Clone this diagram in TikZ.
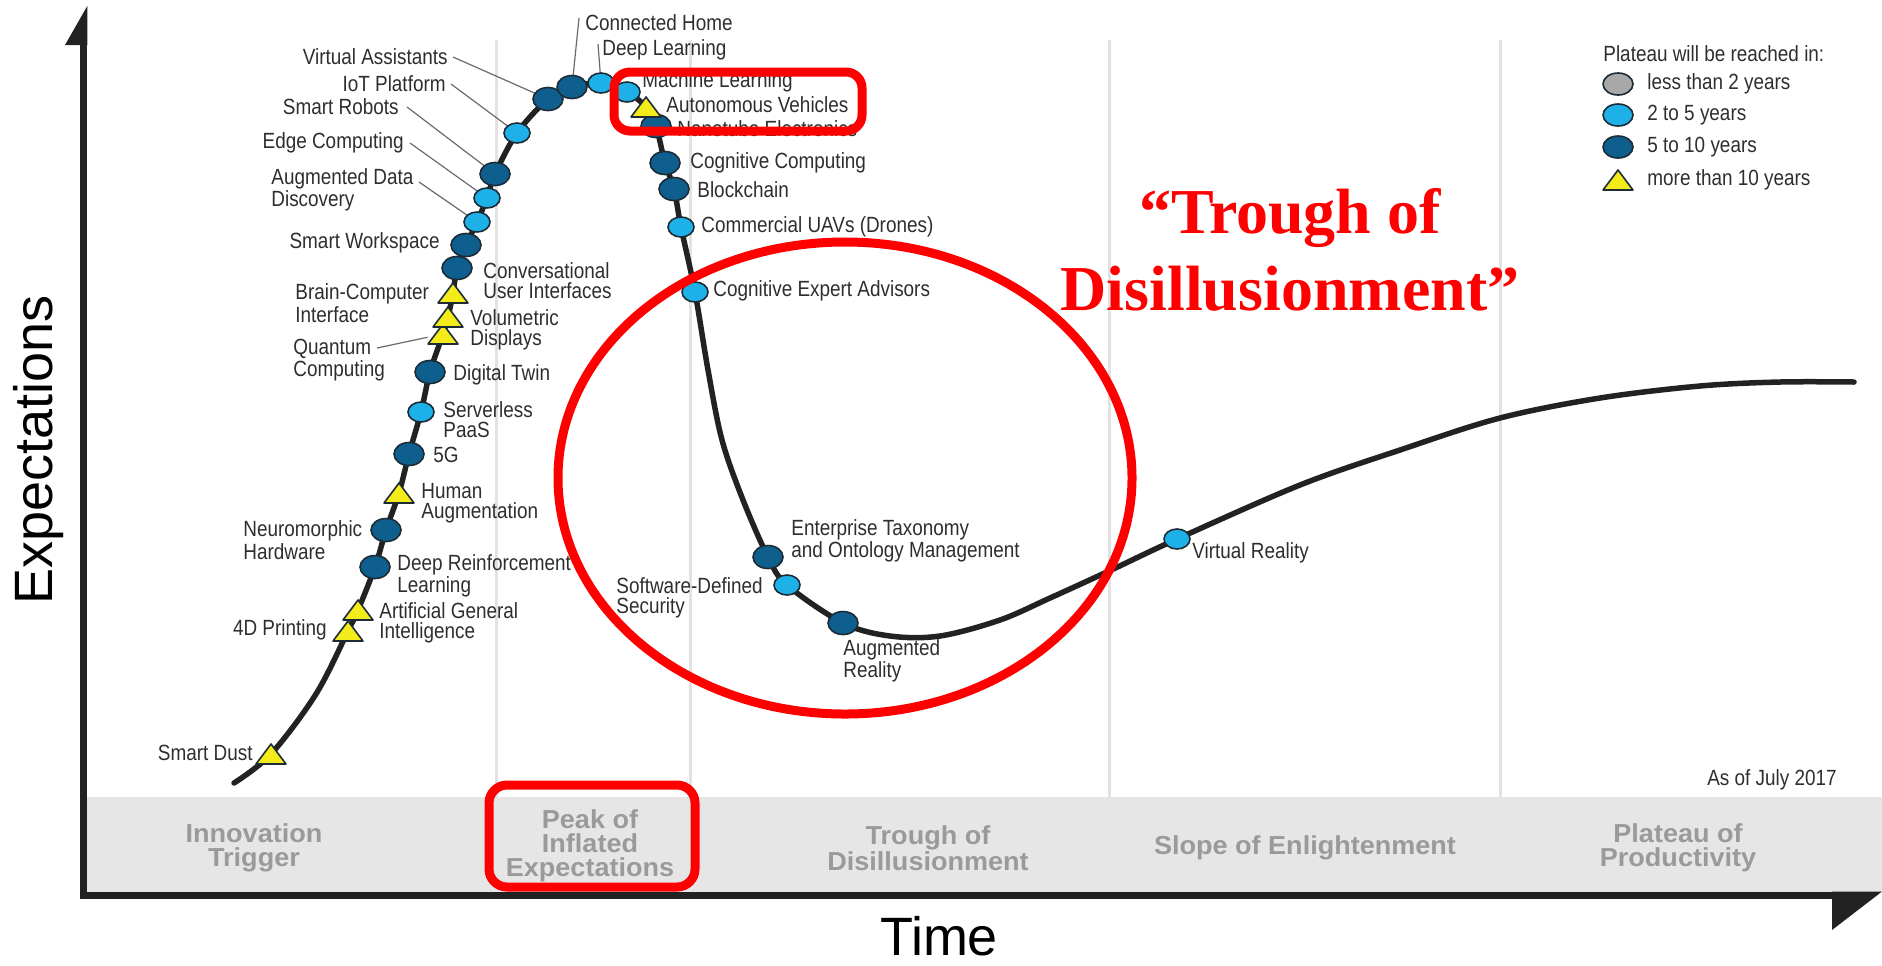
\documentclass[tikz,border=0pt]{standalone}
\usepackage{fontspec}
\setmainfont{Liberation Sans}
\newfontfamily\lblfont[FakeStretch=0.86]{Liberation Sans}
\newfontfamily\bandfont[FakeStretch=1.04]{Liberation Sans}
\newfontfamily\redfont{Liberation Serif}
\usetikzlibrary{shapes.geometric}
\definecolor{dkb}{HTML}{0E5E8E}
\definecolor{ltb}{HTML}{1EB1E8}
\definecolor{triY}{HTML}{F4EC1A}
\definecolor{outl}{HTML}{1C2B36}
\definecolor{gridc}{HTML}{E2E2E2}
\definecolor{bandc}{HTML}{E6E6E6}
\definecolor{bandtxt}{HTML}{9A9A9A}
\definecolor{lgray}{HTML}{A8A8A8}
\definecolor{axc}{HTML}{222222}
\definecolor{leadc}{HTML}{6A6A6A}
\definecolor{lbltxt}{HTML}{2E2E2E}
\definecolor{redA}{HTML}{FF0000}
\begin{document}
\begin{tikzpicture}[x=0.5pt,y=-0.5pt,
  dkm/.style={ellipse, draw=outl, fill=dkb, line width=0.8pt, minimum width=15pt, minimum height=11.5pt, inner sep=0pt},
  ltm/.style={ellipse, draw=outl, fill=ltb, line width=0.8pt, minimum width=13pt, minimum height=10pt, inner sep=0pt},
  lgm/.style={ellipse, draw=outl, line width=0.8pt, minimum width=15pt, minimum height=11pt, inner sep=0pt},
  trm/.style={rectangle, inner sep=0pt, minimum width=15pt, minimum height=10pt},
  pics/ytri/.style={code={\draw[fill=triY, draw=outl, line width=0.8pt, line join=round] (-7.5pt,-5pt) -- (7.5pt,-5pt) -- (0pt,5pt) -- cycle;}},
  lbl/.style={font=\lblfont\fontsize{11}{10}\selectfont, text=lbltxt, inner sep=0pt, align=left},
  lblr/.style={lbl, anchor=east},
  lbll/.style={lbl, anchor=west},
  leader/.style={draw=leadc, line width=0.6pt},
  phase/.style={font=\bandfont\bfseries\fontsize{13}{12}\selectfont, text=bandtxt, align=center, inner sep=0pt},
  gridline/.style={draw=gridc, line width=1.5pt},
  redmark/.style={draw=redA, line width=4.5pt}
]
\useasboundingbox (0,0) rectangle (1882,965);

% band and dividers
\fill[bandc] (87,797) rectangle (1882,892);
\foreach \gx in {496,690,1109,1500} \draw[gridline] (\gx,40) -- (\gx,797);

% axes
\draw[axc, line width=3.5pt] (83.5,44) -- (83.5,895) -- (1834,895);
\fill[axc] (87.3,6) -- (87.3,45) -- (65,45) -- cycle;
\fill[axc] (1882,891.5) -- (1832,891.5) -- (1832,930) -- cycle;

% phase labels
\node[phase] (phA) at (254,848) {Innovation\\Trigger};
\node[phase] (phB) at (590,846) {Peak of\\Inflated\\Expectations};
\node[phase] (phC) at (928,848) {Trough of\\Disillusionment};
\node[phase] (phD) at (1305,848) {Slope of Enlightenment};
\node[phase] (phE) at (1678,848) {Plateau of\\Productivity};

% axis titles
\node[font=\fontsize{27}{30}\selectfont, inner sep=0pt] (tTime) at (939,936) {Time};
\node[font=\fontsize{27}{30}\selectfont, inner sep=0pt, rotate=90] (tExp) at (39,450) {Expectations};

% hype curve
\draw[axc, line width=2.75pt, line cap=round] plot[smooth, tension=0.55] coordinates {
 (234,783) (271,754) (316,694) (348,631) (358,610) (375,567) (386,530) (399,493)
 (409,454) (421,412) (430,372) (443,334) (448,317) (453,293) (457,268) (466,245)
 (477,222) (487,198) (495,174) (517,133) (548,99) (572,87) (601,83) (627,92)
 (646,107) (656,126) (665,163) (674,189) (681,227) (695,292) (708,370) (722,440)
 (743,500) (768,557) (787,585) (843,623) (890,636) (940,636) (1000,620) (1050,598)
 (1109,571) (1177,539) (1300,485) (1400,450) (1500,418) (1600,398) (1700,386)
 (1780,382) (1854,382)};

% leader start coordinates
\coordinate (cADD) at (419,182);
\coordinate (cCH) at (579,18);
\coordinate (cDL) at (598,44);
\coordinate (cQC) at (377,348);

% labels
\node[lblr] (lVA) at (448,57) {Virtual Assistants};
\node[lblr] (lIoT) at (446,84) {IoT Platform};
\node[lblr] (lSR) at (399,107) {Smart Robots};
\node[lblr] (lEC) at (404,143) {Edge Computing};
\node[lbll] (lADD) at (271,190) {Augmented Data\\Discovery};
\node[lblr] (lSW) at (440,243) {Smart Workspace};
\node[lbll] (lCUI) at (483,281) {Conversational\\User Interfaces};
\node[lbll] (lBCI) at (295,303) {Brain-Computer\\Interface};
\node[lbll] (lVD) at (470,330) {Volumetric\\Displays};
\node[lbll] (lQC) at (293,360) {Quantum\\Computing};
\node[lbll] (lDT) at (453,375) {Digital Twin};
\node[lbll] (lSP) at (443,420) {Serverless\\PaaS};
\node[lbll] (l5G) at (433,455) {5G};
\node[lbll] (lHA) at (421,503) {Human\\Augmentation};
\node[lbll] (lNH) at (243,540) {Neuromorphic\\Hardware};
\node[lbll] (lDRL) at (397,576) {Deep Reinforcement\\Learning};
\node[lbll] (lAGI) at (379,623) {Artificial General\\Intelligence};
\node[lblr] (l4D) at (327,630) {4D Printing};
\node[lblr] (lSD) at (253,753) {Smart Dust};
\node[lbll] (lCH) at (585,23) {Connected Home};
\node[lbll] (lDL) at (602,50) {Deep Learning};
\node[lbll] (lML) at (642,82) {Machine Learning};
\node[lbll] (lAV) at (666,105) {Autonomous Vehicles};
\node[lbll] (lNE) at (677,129) {Nanotube Electronics};
\node[lbll] (lCC) at (690,163) {Cognitive Computing};
\node[lbll] (lBC) at (697,190) {Blockchain};
\node[lbll] (lUAV) at (701,227) {Commercial UAVs (Drones)};
\node[lbll] (lCEA) at (713,291) {Cognitive Expert Advisors};
\node[lbll] (lET) at (791,541) {Enterprise Taxonomy\\and Ontology Management};
\node[lbll] (lSDS) at (616,598) {Software-Defined\\Security};
\node[lbll] (lAR) at (843,661) {Augmented\\Reality};
\node[lbll] (lVR) at (1192,553) {Virtual Reality};
\node[lblr] (lAsOf) at (1837,780) {As of July 2017};

% markers (invisible triangle holders first)
\node[trm] (mSD) at (271,754) {};
\node[trm] (m4D) at (348,631) {};
\node[trm] (mAGI) at (358,610) {};
\node[trm] (mHA) at (399,493) {};
\node[trm] (mQC) at (443,334) {};
\node[trm] (mVD) at (448,317) {};
\node[trm] (mBCI) at (453,293) {};
\node[trm] (mAV) at (646,107) {};

% leaders
\draw[leader] ([xshift=2.5pt]lVA.east) -- (548,99);
\draw[leader] ([xshift=2.5pt]lIoT.east) -- (517,133);
\draw[leader] ([xshift=4pt]lSR.east) -- (495,174);
\draw[leader] ([xshift=3pt]lEC.east) -- (487,198);
\draw[leader] (cADD) -- (477,222);
\draw[leader] (cCH) -- (572,87);
\draw[leader] (cDL) -- (601,83);
\draw[leader] (cQC) -- (mQC);

% circles
\node[dkm] (mDRL) at (375,567) {};
\node[dkm] (mNH) at (386,530) {};
\node[dkm] (m5G) at (409,454) {};
\node[ltm] (mSP) at (421,412) {};
\node[dkm] (mDT) at (430,372) {};
\node[dkm] (mCUI) at (457,268) {};
\node[dkm] (mSW) at (466,245) {};
\node[ltm] (mADD) at (477,222) {};
\node[ltm] (mEC) at (487,198) {};
\node[dkm] (mSR) at (495,174) {};
\node[ltm] (mIoT) at (517,133) {};
\node[dkm] (mVA) at (548,99) {};
\node[dkm] (mCH) at (572,87) {};
\node[ltm] (mDL) at (601,83) {};
\node[ltm] (mML) at (627,92) {};
\node[dkm] (mNE) at (656,126) {};
\node[dkm] (mCC) at (665,163) {};
\node[dkm] (mBC) at (674,189) {};
\node[ltm] (mUAV) at (681,227) {};
\node[ltm] (mCEA) at (695,292) {};
\node[dkm] (mET) at (768,557) {};
\node[ltm] (mSDS) at (787,585) {};
\node[dkm] (mAR) at (843,623) {};
\node[ltm] (mVR) at (1177,539) {};

% triangles
\foreach \t in {mSD,m4D,mAGI,mHA,mQC,mVD,mBCI,mAV} \pic at (\t) {ytri};

% legend
\node[lbll] (lgT) at (1603,54) {Plateau will be reached in:};
\node[lgm, fill=lgray] (lg1) at (1618,84) {};
\node[lgm, fill=ltb] (lg2) at (1618,115) {};
\node[lgm, fill=dkb] (lg3) at (1618,147) {};
\node[trm] (lg4) at (1618,180) {};
\pic at (lg4) {ytri};
\node[lbll] (lg1t) at (1647,84) {less than 2 years};
\node[lbll] (lg2t) at (1647,115) {2 to 5 years};
\node[lbll] (lg3t) at (1647,147) {5 to 10 years};
\node[lbll] (lg4t) at (1647,180) {more than 10 years};

% red annotations
\draw[redmark, rounded corners=8pt] (614,72) rectangle (862,131);
\draw[redmark, rounded corners=9pt] (489,785) rectangle (695,887);
\draw[redmark] (845,478) ellipse [x radius=143.5pt, y radius=118pt];
\node[text=redA, font=\redfont\bfseries\fontsize{32}{38.5}\selectfont, align=center, inner sep=0pt] (tRed) at (1290,250) {“Trough of\\Disillusionment”};
\end{tikzpicture}
\end{document}
